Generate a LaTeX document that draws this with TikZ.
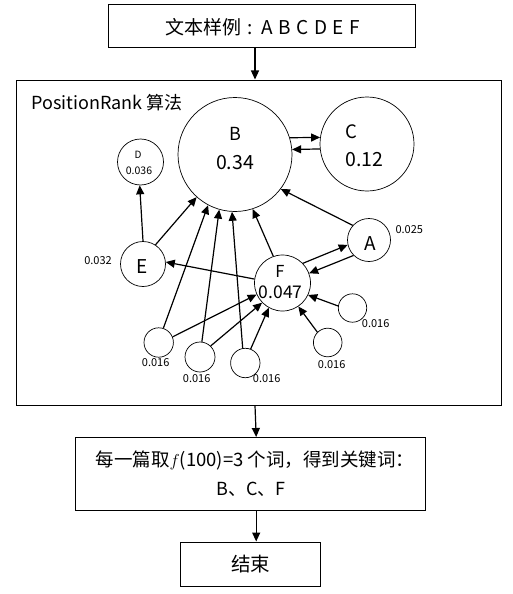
\documentclass[tikz,border=0pt]{standalone}
\usepackage{fontspec}
\setmainfont{Noto Sans CJK SC}
\usetikzlibrary{arrows.meta}
\newcommand{\fs}[1]{\fontsize{#1}{#1}\selectfont}
\newcommand{\lsp}{\hspace{5.5pt}}
\begin{document}
\begin{tikzpicture}[x=1pt,y=-1pt,
  box/.style={draw, line width=1pt, inner sep=0pt, align=center},
  circ/.style={circle, draw, line width=0.7pt, inner sep=0pt},
  edge/.style={line width=1.2pt, -{Triangle[length=9pt,width=8pt]}},
  txt/.style={inner sep=0pt},
]
\useasboundingbox (0,0) rectangle (512,594);
% boxes
\node[box, minimum width=307pt, minimum height=43pt] (top) at (261.5,26.5) {};
\node[txt, font=\fs{19}] (toptxt) at (262.5,27) {文本样例\hspace{6pt}:\hspace{9pt}A\lsp B\lsp C\lsp D\lsp E\lsp F};
\node[box, minimum width=485pt, minimum height=325pt] (big) at (258.5,242.5) {};
\node[box, minimum width=350pt, minimum height=73pt] (res) at (250.7,474) {};
\node[txt, font=\fs{18.5}] (res1) at (255,460) {每一篇取$f$(100)=3 个词，得到关键词：};
\node[txt, font=\fs{18}] (res2) at (250.8,489) {B、C、F};
\node[box, minimum width=140pt, minimum height=44pt] (end) at (250.7,564) {};
\node[txt, font=\fs{19.5}] (endtxt) at (250.5,564) {结束};
\node[txt, anchor=west, font=\fs{18}] (title) at (31,103) {PositionRank 算法};
% flow arrows
\draw[edge] ([xshift=-6.5pt]top.south) -- ([xshift=-3.5pt]big.north);
\draw[edge] ([xshift=-3.5pt]big.south) -- ([xshift=5.5pt]res.north);
\draw[edge] ([xshift=5.5pt]res.south) -- ([xshift=5.5pt]end.north);
% circles
\node[circ, minimum size=114pt] (B) at (235,154.5) {};
\node[circ, minimum size=94pt] (C) at (367,144) {};
\node[circ, minimum size=46pt] (D) at (140.5,162) {};
\node[circ, minimum size=45pt] (E) at (143,264) {};
\node[circ, minimum size=43pt] (A) at (369,240) {};
\node[circ, minimum size=56pt] (F) at (282.5,283) {};
\node[circ, minimum size=29.4pt] (s1) at (158.7,342.5) {};
\node[circ, minimum size=30pt] (s2) at (200,357) {};
\node[circ, minimum size=29.4pt] (s3) at (245.3,363) {};
\node[circ, minimum size=28.6pt] (s4) at (327.7,342.5) {};
\node[circ, minimum size=28.4pt] (s5) at (352.5,308) {};
% circle texts
\node[txt, font=\fs{18}] (Bn) at (235,134) {B};
\node[txt, font=\fs{19.5}] (Bv) at (235,163) {0.34};
\node[txt, font=\fs{18.5}, anchor=west] (Cn) at (345,132) {C};
\node[txt, font=\fs{19.5}, anchor=west] (Cv) at (345,160) {0.12};
\node[txt, font=\fs{10}] (Dn) at (138,155) {D};
\node[txt, font=\fs{10.5}] (Dv) at (139,171) {0.036};
\node[txt, font=\fs{19}] (En) at (142.3,267) {E};
\node[txt, font=\fs{19}] (An) at (370,243.7) {A};
\node[txt, font=\fs{16.5}] (Fn) at (280,271.7) {F};
\node[txt, font=\fs{17.5}] (Fv) at (280.7,292.7) {0.047};
% outside labels
\node[txt, font=\fs{11}] (Av) at (409.3,230) {0.025};
\node[txt, font=\fs{11}] (Ev) at (98,261) {0.032};
\node[txt, font=\fs{11}] (s1v) at (155.7,362.7) {0.016};
\node[txt, font=\fs{11}] (s2v) at (196.7,378.7) {0.016};
\node[txt, font=\fs{11}] (s3v) at (266.7,378.7) {0.016};
\node[txt, font=\fs{11}] (s4v) at (331.7,365) {0.016};
\node[txt, font=\fs{11}] (s5v) at (375.7,324) {0.016};
% edges
\draw[edge] (B.17) -- (C.172);
\draw[edge] (C.186) -- (B.5);
\draw[edge] (E.90) -- (D.268);
\draw[edge] (E.57) -- (B.228);
\draw[edge] (s1.72) -- (B.242);
\draw[edge] (s2.83) -- (B.254);
\draw[edge] (s3.100) -- (B.267);
\draw[edge] (F.109) -- (B.288);
\draw[edge] (A.138) -- (B.323);
\draw[edge] (F.44) -- (A.193);
\draw[edge] (A.225) -- (F.20);
\draw[edge] (F.172) -- (E.5);
\draw[edge] (s1.22) -- (F.204);
\draw[edge] (s2.46) -- (F.224);
\draw[edge] (s3.69) -- (F.241);
\draw[edge] (s4.135) -- (F.304);
\draw[edge] (s5.172) -- (F.335);
\end{tikzpicture}
\end{document}
